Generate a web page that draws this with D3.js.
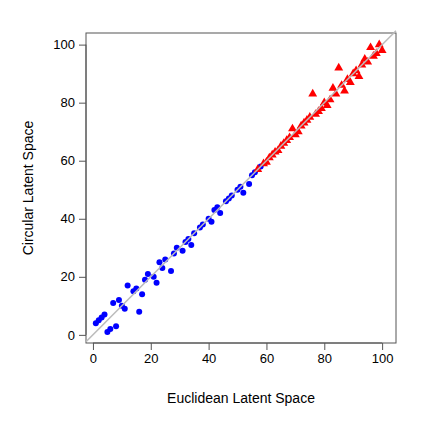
<!DOCTYPE html>
<html><head><meta charset="utf-8">
<script src="https://cdn.jsdelivr.net/npm/d3@7"></script>
<style>body{margin:0;background:#fff}text{font-family:"Liberation Sans",Arial,sans-serif}</style>
</head><body><svg id="c" width="430" height="430"></svg>
<script>
// blue group: [euclidean, circular]
const blueX = [1,2,3,4,5,6,8,7,9,10,11,12,14,15,16,17,18,19,21,22,23,24,25,27,28,29,31,32,33,34,35,37,38,40,41,42,43,44,46,47,48,50,51,52,54,55,56,58];
const blueY = [4,5,6,7,1,2,3,11,12,10,9,17,15,16,8,14,19,21,20,18,25,23,26,22,28,30,29,32,33,31,35,37,38,40,39,43,44,42,46,47,48,50,51,49,52,55,56,58];
const redX = [57,59,60,61,62,63,64,65,66,67,68,69,70,71,72,73,74,75,76,77,78,79,80,81,82,83,84,85,86,87,88,89,90,91,92,93,94,95,96,97,98,99,100];
const redY = [57,59,59.5,61,62,63,63.5,65,66,67,68,71,69,70,72,73,74,75,83,76,77,78,80,79,81,85,83,92,86,84,88,87,90,91,89,93,95,94,99,96,97,100,98];
const ticks = [0,20,40,60,80,100];

const svg = d3.select("#c");
const L = 86, R = 396, T = 33, B = 343;
const x = d3.scaleLinear().domain([-2.4, 104.8]).range([L, R]);
const y = d3.scaleLinear().domain([-2.8, 104]).range([B, T]);

svg.append("rect").attr("x", L).attr("y", T).attr("width", R - L).attr("height", B - T)
  .attr("fill", "none").attr("stroke", "#555");

svg.append("g").attr("transform", `translate(0,${B})`)
  .call(d3.axisBottom(x).tickValues(ticks).tickSize(7).tickPadding(4))
  .call(g => g.select(".domain").attr("d", `M${x(0)},0H${x(100)}`).attr("stroke", "#555"))
  .call(g => g.selectAll("line").attr("stroke", "#555"))
  .call(g => g.selectAll("text").attr("font-size", 13).attr("fill", "#000"));

svg.append("g").attr("transform", `translate(${L},0)`)
  .call(d3.axisLeft(y).tickValues(ticks).tickSize(7).tickPadding(4))
  .call(g => g.select(".domain").attr("d", `M0,${y(0)}V${y(100)}`).attr("stroke", "#555"))
  .call(g => g.selectAll("line").attr("stroke", "#555"))
  .call(g => g.selectAll("text").attr("font-size", 13).attr("fill", "#000"));

svg.append("text").attr("x", (L + R) / 2).attr("y", 403).attr("text-anchor", "middle")
  .attr("font-size", 14).text("Euclidean Latent Space");
svg.append("text").attr("transform", `translate(33,${(T + B) / 2}) rotate(-90)`)
  .attr("text-anchor", "middle").attr("font-size", 14).text("Circular Latent Space");

const plot = svg.append("g");
plot.selectAll(".b").data(blueX).enter().append("circle")
  .attr("cx", d => x(d)).attr("cy", (d, i) => y(blueY[i])).attr("r", 3).attr("fill", "#0000ff");
const tri = d3.symbol().type(d3.symbolTriangle).size(34);
plot.selectAll(".r").data(redX).enter().append("path")
  .attr("d", tri).attr("transform", (d, i) => `translate(${x(d)},${y(redY[i])})`).attr("fill", "#ff0000");

svg.append("line").attr("x1", L).attr("y1", y(x.invert(L))).attr("x2", R).attr("y2", y(x.invert(R)))
  .attr("stroke", "#bbb").attr("stroke-width", 1.5);
</script></body></html>
